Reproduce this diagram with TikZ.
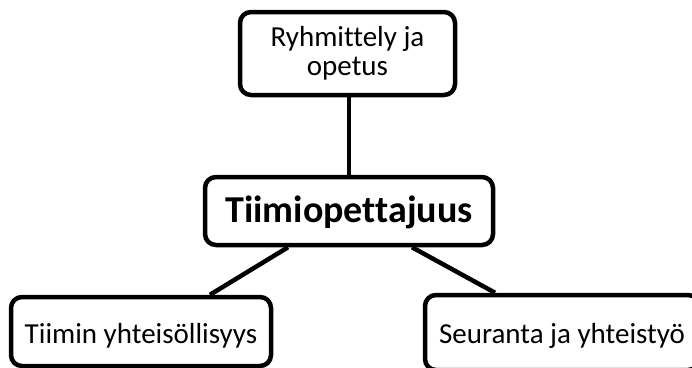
\documentclass[tikz,border=0pt]{standalone}
\usepackage{fontspec}
\setmainfont{Carlito}[Ligatures=NoCommon]
\begin{document}
\begin{tikzpicture}[x=1pt,y=-1pt,
  box/.style={draw=black, line width=4.5pt, rounded corners=11pt, fill=white,
              inner sep=0pt, align=center},
  link/.style={draw=black, line width=4.5pt},
  plain/.style={font=\fontsize{29}{29}\selectfont},
  title/.style={font=\fontsize{38}{40}\selectfont\bfseries}]
\useasboundingbox (0,0) rectangle (692,367);
\clip (0,0) rectangle (692,367);

% central topic and the three branches
\node[box, plain, minimum width=215pt, minimum height=83pt] (top) at (347.5,53.5) {Ryhmittely ja\\opetus};
\node[box, title, minimum width=288pt, minimum height=68pt,
      text height=27pt, text depth=5pt] (mid) at (349,211) {Tiimiopettajuus};
\node[box, plain, minimum width=260pt, minimum height=69pt,
      text height=26pt, text depth=3pt] (left) at (141,331.5) {Tiimin yhteisöllisyys};
\node[box, plain, minimum width=274pt, minimum height=75pt,
      text height=24pt, text depth=3pt] (right) at (562,332.5) {Seuranta ja yhteistyö};

% connectors
\draw[link] (mid.north) -- (mid.north |- top.south);
\draw[link] ([xshift=-61pt]mid.south) -- ([xshift=69pt]left.north);
\draw[link] ([xshift=63pt]mid.south) -- ([xshift=-67pt]right.north);
\end{tikzpicture}
\end{document}
